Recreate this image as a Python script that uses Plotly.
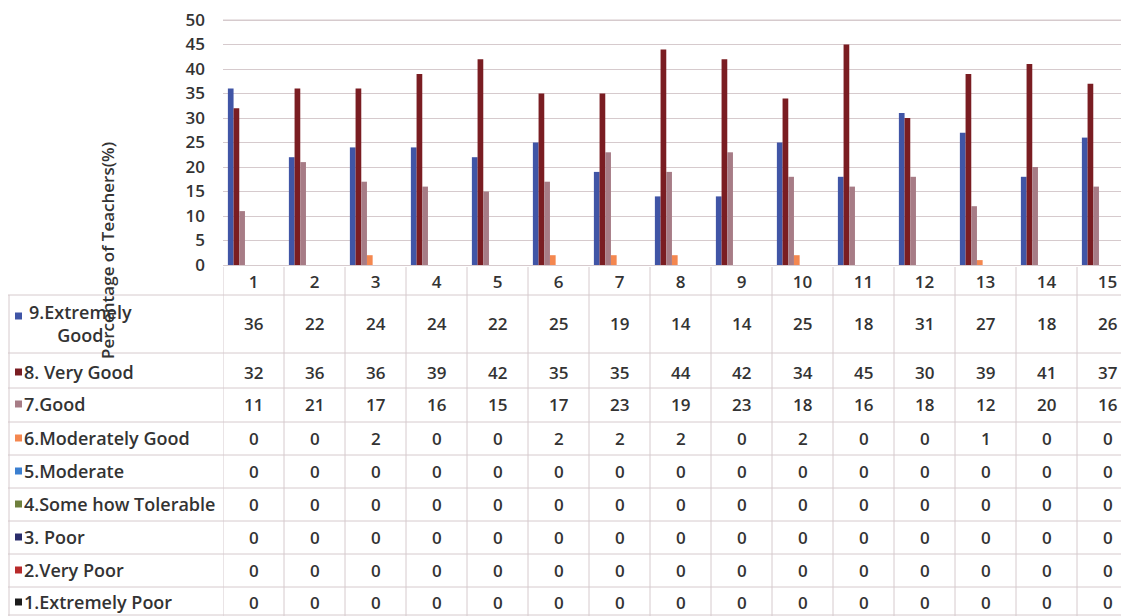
import plotly.graph_objects as go

# The page body has an 8px margin, so the figure is drawn 8px in from the
# window's top-left corner; positions below are given in window pixels.
OFF = 8
WIN_W, WIN_H = 1129, 616
W, H = WIN_W - OFF, WIN_H - OFF

categories = list(range(1, 16))
row_labels = [
    "9.Extremely<br>Good",
    "8. Very Good",
    "7.Good",
    "6.Moderately Good",
    "5.Moderate",
    "4.Some how Tolerable",
    "3. Poor",
    "2.Very Poor",
    "1.Extremely Poor",
]
s9 = [36, 22, 24, 24, 22, 25, 19, 14, 14, 25, 18, 31, 27, 18, 26]
s8 = [32, 36, 36, 39, 42, 35, 35, 44, 42, 34, 45, 30, 39, 41, 37]
s7 = [11, 21, 17, 16, 15, 17, 23, 19, 23, 18, 16, 18, 12, 20, 16]
s6 = [0, 0, 2, 0, 0, 2, 2, 2, 0, 2, 0, 0, 1, 0, 0]
s5 = [0] * 15
s4 = [0] * 15
s3 = [0] * 15
s2 = [0] * 15
s1 = [0] * 15
series_values = [s9, s8, s7, s6, s5, s4, s3, s2, s1]
colors = ["#4055a6", "#7a1d22", "#a77c86", "#f4874f", "#3b7fd0",
          "#6e7f3c", "#2a2d6b", "#b82a2a", "#1c1c1c"]
ytick_vals = list(range(0, 51, 5))
y_title = "Percentage of Teachers(%)"

FONT = "Open Sans"
WEIGHT = 600
TXT = "#333333"
LINE = "#d6cacd"
NUM_SIZE = 17
LAB_SIZE = 18


def px(x):
    return max(0.0, (x - OFF) / W)


def py(y):
    return min(1.0, max(0.0, 1 - (y - OFF) / H))


fig = go.Figure()
for name, vals, col in zip(row_labels, series_values, colors):
    fig.add_trace(go.Bar(x=categories, y=vals, name=name.replace("<br>", " "),
                         marker=dict(color=col, line=dict(width=0))))

y_max = 51
plot_bottom = 265
px_per_unit = (265 - 20) / 50.0
plot_top = plot_bottom - y_max * px_per_unit
plot_left = 223
cat_w = 61.0
x_lo = 0.5
x_hi = 0.5 + (WIN_W - plot_left) / cat_w

fig.update_layout(
    width=W, height=H,
    margin=dict(l=0, r=0, t=0, b=0, pad=0, autoexpand=False),
    paper_bgcolor="white", plot_bgcolor="white",
    barmode="group", bargap=0.16, bargroupgap=0,
    showlegend=False,
    font=dict(family=FONT, color=TXT),
    xaxis=dict(domain=[px(plot_left), 1], range=[x_lo, x_hi], automargin=False,
               tickvals=categories, ticktext=[str(c) for c in categories],
               showgrid=False, zeroline=False, showline=True, linecolor=LINE,
               ticks="", ticklabelstandoff=2, ticklabeloverflow="allow",
               tickfont=dict(family=FONT, size=NUM_SIZE, color=TXT, weight=WEIGHT)),
    yaxis=dict(domain=[py(plot_bottom), py(plot_top)], range=[0, y_max], automargin=False,
               tickvals=ytick_vals, showgrid=True, gridcolor=LINE, gridwidth=1,
               zeroline=False, showline=False, ticks="", ticklabelstandoff=17,
               ticklabeloverflow="allow",
               tickfont=dict(family=FONT, size=NUM_SIZE, color=TXT, weight=WEIGHT)),
)
# make sure the top gridline (50) is drawn
fig.add_hline(y=ytick_vals[-1], line=dict(color=LINE, width=1), layer="below")

# Y-axis title
fig.add_annotation(text=y_title, xref="paper", yref="paper",
                   x=px(107), y=py(251), textangle=-90, showarrow=False,
                   font=dict(family=FONT, size=17, color=TXT, weight=WEIGHT),
                   xanchor="center", yanchor="middle")

# Data table
row_centers = [323, 372, 404, 438, 471, 504, 537, 570, 602]
row_lines = [295, 353, 388, 422, 455, 488, 521, 554, 587, 615]
label_left = 8
header_top = 267

for yl in row_lines:
    fig.add_shape(type="line", xref="paper", yref="paper",
                  x0=px(label_left), x1=1, y0=py(yl), y1=py(yl),
                  line=dict(color=LINE, width=1))
for b in [c + 0.5 for c in range(0, 16)]:
    fig.add_shape(type="line", xref="x", yref="paper",
                  x0=b, x1=b, y0=py(header_top), y1=0,
                  line=dict(color=LINE, width=1))
fig.add_shape(type="line", xref="paper", yref="paper",
              x0=px(label_left + 1), x1=px(label_left + 1), y0=py(row_lines[0]), y1=0,
              line=dict(color=LINE, width=1))

for i, (name, vals, col) in enumerate(zip(row_labels, series_values, colors)):
    yc_px = row_centers[i]
    if i == 0:
        key_y = 316
        fig.add_annotation(text=name, xref="paper", yref="paper", x=px(80), y=py(yc_px),
                           xanchor="center", yanchor="middle", align="center",
                           showarrow=False,
                           font=dict(family=FONT, size=LAB_SIZE, color=TXT, weight=WEIGHT))
    else:
        key_y = yc_px
        fig.add_annotation(text=name, xref="paper", yref="paper", x=px(22), y=py(yc_px),
                           xanchor="left", yanchor="middle", align="left",
                           showarrow=False,
                           font=dict(family=FONT, size=LAB_SIZE, color=TXT, weight=WEIGHT))
    # legend key square
    fig.add_shape(type="rect", xref="paper", yref="paper",
                  x0=px(15), x1=px(22), y0=py(key_y + 3.5), y1=py(key_y - 3.5),
                  fillcolor=col, line=dict(width=0))
    for c, v in zip(categories, vals):
        fig.add_annotation(text=str(v), xref="x", yref="paper", x=c, y=py(yc_px),
                           xanchor="center", yanchor="middle", showarrow=False,
                           font=dict(family=FONT, size=NUM_SIZE, color=TXT, weight=WEIGHT))

fig.write_html("out.html")
